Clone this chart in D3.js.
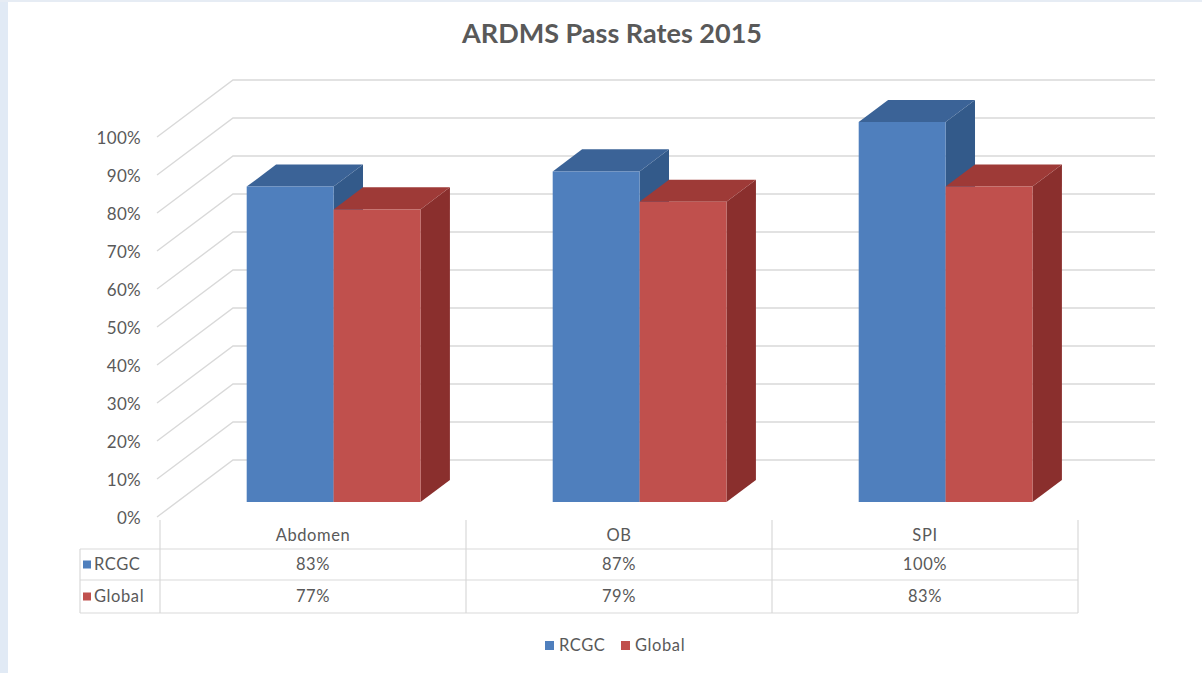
<!DOCTYPE html>
<html>
<head>
<meta charset="utf-8">
<script src="https://cdn.jsdelivr.net/npm/d3@7"></script>
<style>
  html, body { margin: 0; padding: 0; background: #fff; }
  svg { display: block; }
  text { font-family: "Lato", "Open Sans", sans-serif; fill: #595959; }
</style>
</head>
<body>
<script>
// ---- data ----
const title = "ARDMS Pass Rates 2015";
const categories = ["Abdomen", "OB", "SPI"];
const seriesNames = ["RCGC", "Global"];
const rcgcValues = [83, 87, 100];
const globalValues = [77, 79, 83];
const yTickValues = [0, 10, 20, 30, 40, 50, 60, 70, 80, 90, 100];

const seriesValues = [rcgcValues, globalValues];
const colors = {
  RCGC:   { front: "#4f7fbd", top: "#3b6397", side: "#335a8a" },
  Global: { front: "#c0504d", top: "#9e3a37", side: "#8a2f2d" }
};

const W = 1202, H = 673;
const svg = d3.select("body").append("svg").attr("width", W).attr("height", H);

// page frame
svg.append("rect").attr("x", 0).attr("y", 0).attr("width", W).attr("height", H).attr("fill", "#fff");
svg.append("rect").attr("x", 0).attr("y", 0).attr("width", 8).attr("height", H).attr("fill", "#e1eaf5");
svg.append("rect").attr("x", 0).attr("y", 0).attr("width", W).attr("height", 2).attr("fill", "#e6ecf4");

// ---- scales / projection ----
const plotLeft = 160, plotRight = 1078;
const x = d3.scaleBand().domain(categories).range([plotLeft, plotRight]).padding(0);
const xs = d3.scaleBand().domain(seriesNames)
  .range([x.bandwidth() * 0.218, x.bandwidth() * 0.786]).padding(0);
const y = d3.scaleLinear().domain([0, 100]).range([517, 137]);
const DX = 76, DY = -57;           // full depth offset
const dFront = 0.263, dBack = 0.65; // bar depth range
const P = (px, v, d) => [px + DX * d, y(v) + DY * d];
const pts = arr => arr.map(p => p.join(",")).join(" ");

// ---- gridlines (side wall + back wall) ----
const grid = svg.append("g").attr("stroke", "#d9d9d9").attr("stroke-width", 1.4).attr("fill", "none");
yTickValues.forEach(v => {
  grid.append("polyline")
    .attr("points", pts([P(plotLeft - 3, v, 0), P(plotLeft - 3, v, 1), P(plotRight + 1, v, 1)]));
});

// y labels
svg.append("g").selectAll("text").data(yTickValues).join("text")
  .attr("x", 141).attr("y", d => y(d) + 1).attr("dy", "0.35em")
  .attr("text-anchor", "end").attr("font-size", 17).attr("letter-spacing", 0.3)
  .text(d => d + "%");

// ---- bars ----
const bars = svg.append("g");
categories.forEach((c, ci) => {
  seriesNames.forEach((s, si) => {
    const v = seriesValues[si][ci];
    const x0 = x(c) + xs(s), x1 = x0 + xs.bandwidth();
    const col = colors[s];
    bars.append("polygon").attr("fill", col.side)
      .attr("points", pts([P(x1, 0, dFront), P(x1, 0, dBack), P(x1, v, dBack), P(x1, v, dFront)]));
    bars.append("polygon").attr("fill", col.top)
      .attr("points", pts([P(x0, v, dFront), P(x0, v, dBack), P(x1, v, dBack), P(x1, v, dFront)]));
    bars.append("polygon").attr("fill", col.front)
      .attr("points", pts([P(x0, 0, dFront), P(x1, 0, dFront), P(x1, v, dFront), P(x0, v, dFront)]));
  });
});

// ---- data table ----
const tHead = 520, tRow1 = 549, tRow2 = 580, tBot = 613, tLeft = 80;
const tbl = svg.append("g").attr("stroke", "#d9d9d9").attr("stroke-width", 1.2);
[tRow1, tRow2, tBot].forEach(yy => tbl.append("line").attr("x1", tLeft).attr("x2", plotRight).attr("y1", yy).attr("y2", yy));
tbl.append("line").attr("x1", tLeft).attr("x2", tLeft).attr("y1", tRow1).attr("y2", tBot);
const colEdges = categories.map(c => x(c)).concat([plotRight]);
colEdges.forEach(xx => tbl.append("line").attr("x1", xx).attr("x2", xx).attr("y1", tHead).attr("y2", tBot));

const fs = 16.5, ls = 0.6;
svg.append("g").selectAll("text").data(categories).join("text")
  .attr("x", d => x(d) + x.bandwidth() / 2).attr("y", (tHead + tRow1) / 2 + 1).attr("dy", "0.35em")
  .attr("text-anchor", "middle").attr("font-size", fs).attr("letter-spacing", ls).text(d => d);

const rowY = [(tRow1 + tRow2) / 2, (tRow2 + tBot) / 2];
seriesNames.forEach((s, si) => {
  svg.append("rect").attr("x", 83).attr("y", rowY[si] - 4).attr("width", 8).attr("height", 8).attr("fill", colors[s].front);
  svg.append("text").attr("x", 94).attr("y", rowY[si]).attr("dy", "0.35em")
    .attr("font-size", fs).attr("letter-spacing", ls).text(s);
  svg.append("g").selectAll("text").data(categories).join("text")
    .attr("x", d => x(d) + x.bandwidth() / 2).attr("y", rowY[si]).attr("dy", "0.35em")
    .attr("text-anchor", "middle").attr("font-size", fs).attr("letter-spacing", ls)
    .text((d, i) => seriesValues[si][i] + "%");
});

// ---- legend ----
const legendX = [545, 621];
seriesNames.forEach((s, si) => {
  svg.append("rect").attr("x", legendX[si]).attr("y", 641).attr("width", 9).attr("height", 9).attr("fill", colors[s].front);
  svg.append("text").attr("x", legendX[si] + 14).attr("y", 645.5).attr("dy", "0.35em")
    .attr("font-size", fs).attr("letter-spacing", ls).text(s);
});

// ---- title ----
svg.append("text").attr("x", 612).attr("y", 34).attr("dy", "0.35em")
  .attr("text-anchor", "middle").attr("font-size", 27).attr("font-weight", "bold")
  .text(title);
</script>
</body>
</html>
